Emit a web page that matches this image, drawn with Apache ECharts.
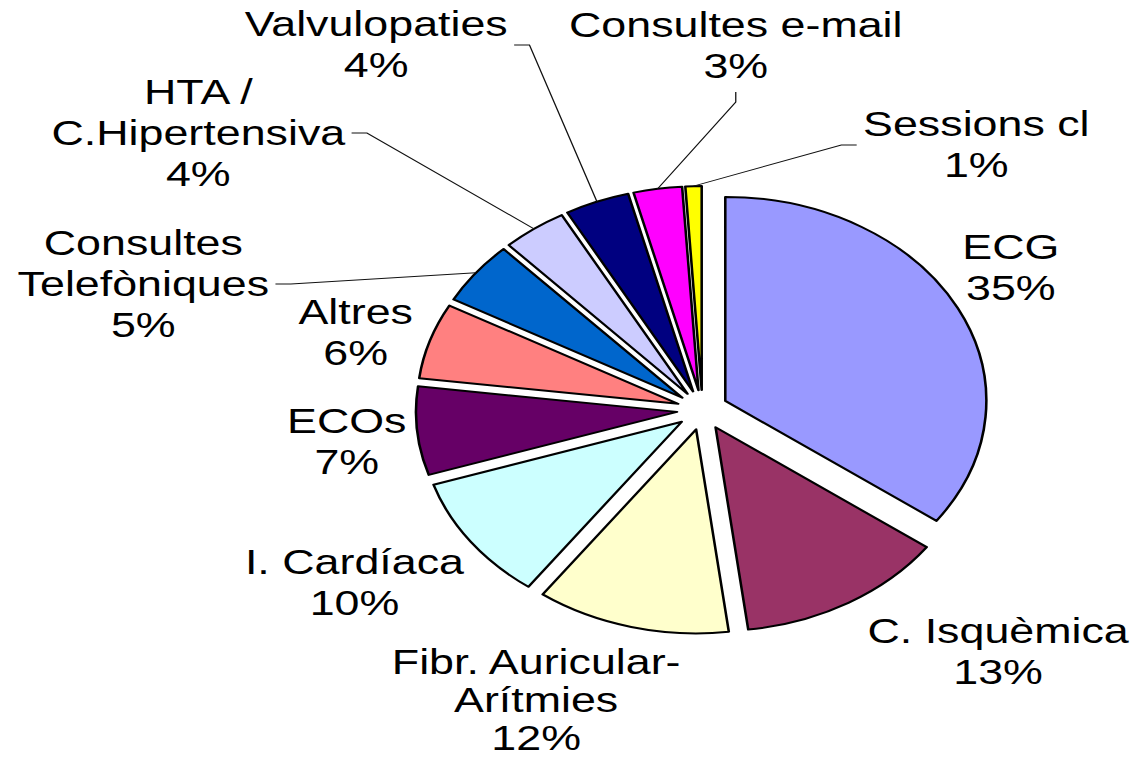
<!DOCTYPE html>
<html><head><meta charset="utf-8">
<script src="https://cdn.jsdelivr.net/npm/echarts@6/dist/echarts.min.js"></script>
<style>
html,body{margin:0;padding:0;background:#fff;overflow:hidden;width:1135px;height:758px}
#chart{width:887px;height:758px;transform:scaleX(1.27959);transform-origin:0 0;}
</style>
</head><body><div id="chart"></div>
<script>
// ---- data ----
const categories = ['ECG','C. Isquèmica','Fibr. Auricular-\nArítmies','I. Cardíaca','ECOs','Altres','Consultes\nTelefòniques','HTA /\nC.Hipertensiva','Valvulopaties','Consultes e-mail','Sessions cl'];
const values = [35,13,12,10,7,6,5,4,4,3,1];
const colors = ['#9999FF','#993366','#FFFFCC','#CCFFFF','#660066','#FF8080','#0066CC','#CCCCFF','#000080','#FF00FF','#FFFF00'];

// ---- layout (chart is drawn in an 887px-wide box, then stretched horizontally) ----
const CX = 549, CY = 410, R = 204, OFFSET = 20;
const labelPos = [[790,268],[780,652],[419,700],[277,583],[271,442],[278,333],[112,284],[155,133],[294,45],[575,46],[763,145]];
const labelLineHeight = [41,41,38,41,41,41,41,41,41,41,41];
const leaderSide = [null,null,null,null,null,null,'right','right','right','bottom','left'];

const total = values.reduce((a,b)=>a+b,0);
function rimPoint(i){
  let cum = 0;
  for (let k=0;k<i;k++) cum += values[k];
  const th = (cum + values[i]/2) / total * Math.PI * 2;
  const rr = R + OFFSET;
  return [CX + rr*Math.sin(th), CY - rr*Math.cos(th)];
}

// exploded slices
const sliceData = categories.map((name,i)=>({
  name, value: values[i], selected: true,
  itemStyle:{color: colors[i]}
}));
// label carrier (same data, invisible sectors)
const labelData = categories.map((name,i)=>({
  name, value: values[i],
  label:{lineHeight: labelLineHeight[i]},
  labelLine:{show: !!leaderSide[i]}
}));

const chart = echarts.init(document.getElementById('chart'), null, {renderer:'svg'});
chart.setOption({
  animation:false,
  backgroundColor:'#fff',
  series:[{
    type:'pie',
    center:[CX,CY],
    radius:R,
    startAngle:90,
    clockwise:true,
    selectedMode:'multiple',
    selectedOffset:OFFSET,
    data: sliceData,
    itemStyle:{borderColor:'#000', borderWidth:2},
    label:{show:false},
    labelLine:{show:false},
    emphasis:{disabled:true},
    select:{itemStyle:{borderColor:'#000', borderWidth:2}, label:{show:false}, labelLine:{show:false}}
  },{
    type:'pie',
    center:[CX,CY],
    radius:R,
    startAngle:90,
    clockwise:true,
    silent:true,
    selectedMode:false,
    avoidLabelOverlap:false,
    data: labelData,
    z:3,
    itemStyle:{color:'rgba(0,0,0,0)', borderWidth:0},
    label:{
      show:true,
      formatter:p=>p.name+'\n'+p.value+'%',
      fontFamily:'"Liberation Sans", Arial, sans-serif',
      fontSize:35, lineHeight:41, color:'#000', align:'center'
    },
    labelLine:{show:true, smooth:false, lineStyle:{color:'#111', width:1}},
    emphasis:{disabled:true},
    labelLayout:function(params){
      const i = params.dataIndex;
      const x = labelPos[i][0], y = labelPos[i][1];
      const w = params.labelRect.width, h = params.labelRect.height;
      const res = {x:x, y:y, align:'center', verticalAlign:'middle'};
      const side = leaderSide[i];
      if (side){
        const rim = rimPoint(i);
        let p0, p1;
        if (side==='right'){ p0=[x+w/2+5, y]; p1=[p0[0]+12, y]; }
        else if (side==='left'){ p0=[x-w/2-5, y]; p1=[p0[0]-12, y]; }
        else { p0=[x, y+h/2+5]; p1=[x, p0[1]+10]; }
        res.labelLinePoints=[rim, p1, p0];
      }
      return res;
    }
  }]
});
</script>
</body></html>
